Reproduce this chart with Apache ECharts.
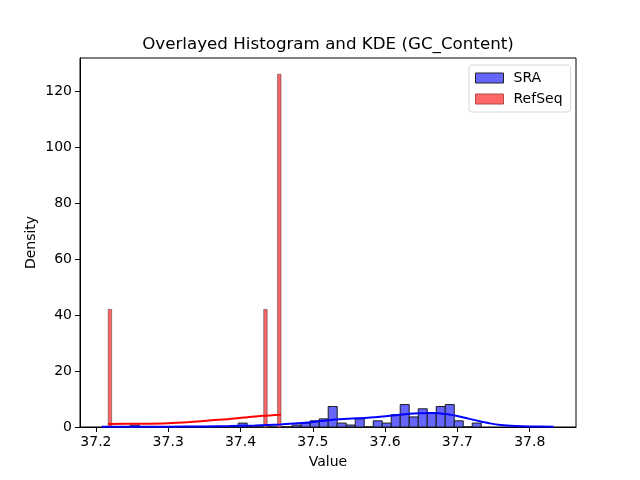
<!DOCTYPE html>
<html>
<head>
<meta charset="utf-8">
<script src="https://cdn.jsdelivr.net/npm/echarts@6/dist/echarts.min.js"></script>
<style>
  html, body { margin: 0; padding: 0; background: #fff; }
  #chart { width: 640px; height: 480px; }
</style>
</head>
<body>
<div id="chart"></div>
<script>
// histogram SRA: first bin left edge, bin width, density per bin
var sraBinStart = 37.2474;
var sraBinWidth = 0.01245;
var sraDensity = [
    0.7, 0, 0, 0, 0, 0, 0, 0, 0, 0,
    0, 0, 1.4, 0, 0, 0, 0, 0, 0.7, 1.4,
    2.2, 2.9, 7.3, 1.4, 0.7, 2.9, 0, 2.2, 1.4, 4.4,
    8.0, 3.6, 6.5, 5.1, 7.3, 8.0, 2.2, 0, 1.4
];

// histogram RefSeq (50 bins)
var refseqBinStart = 37.217;
var refseqBinWidth = 0.00478;
var refseqDensity = [
    42, 0, 0, 0, 0, 0, 0, 0, 0, 0,
    0, 0, 0, 0, 0, 0, 0, 0, 0, 0,
    0, 0, 0, 0, 0, 0, 0, 0, 0, 0,
    0, 0, 0, 0, 0, 0, 0, 0, 0, 0,
    0, 0, 0, 0, 0, 42, 0, 0, 0, 126
];

// KDE curves
var sraKdeX = [37.208, 37.25, 37.30, 37.35, 37.385, 37.42, 37.455, 37.48, 37.51, 37.53,
               37.56, 37.59, 37.62, 37.645, 37.665, 37.685, 37.70, 37.715, 37.73, 37.745,
               37.76, 37.78, 37.80, 37.833];
var sraKdeY = [0.05, 0.07, 0.12, 0.22, 0.35, 0.55, 0.9, 1.3, 2.1, 2.7,
               3.1, 3.6, 4.4, 4.9, 5.0, 4.6, 3.9, 3.0, 2.1, 1.3,
               0.75, 0.4, 0.22, 0.08];
var refseqKdeX = [37.217, 37.26, 37.30, 37.33, 37.36, 37.385, 37.41, 37.43, 37.456];
var refseqKdeY = [1.1, 1.15, 1.35, 1.8, 2.4, 2.85, 3.5, 4.0, 4.4];

var xTicks = [37.2, 37.3, 37.4, 37.5, 37.6, 37.7, 37.8];
var yTicks = [0, 20, 40, 60, 80, 100, 120];

function bins(start, width, vals) {
    var out = [];
    for (var i = 0; i < vals.length; i++) {
        out.push([start + i * width, start + (i + 1) * width, vals[i]]);
    }
    return out;
}

function pairs(xs, ys) {
    return xs.map(function (x, i) { return [x, ys[i]]; });
}

function histRenderer(fill, stroke) {
    return function (params, api) {
        var p0 = api.coord([api.value(0), api.value(2)]);
        var p1 = api.coord([api.value(1), 0]);
        return {
            type: 'rect',
            shape: { x: p0[0], y: p0[1], width: p1[0] - p0[0], height: p1[1] - p0[1] },
            style: { fill: fill, stroke: stroke, lineWidth: 1 }
        };
    };
}

var font = 'DejaVu Sans';
var chart = echarts.init(document.getElementById('chart'), null, { renderer: 'canvas' });

var option = {
    animation: false,
    backgroundColor: '#fff',
    title: {
        text: 'Overlayed Histogram and KDE (GC_Content)',
        left: 323,
        textAlign: 'center',
        top: 31,
        textStyle: { fontFamily: font, fontSize: 16.7, fontWeight: 'normal', color: '#000' }
    },
    legend: {
        orient: 'vertical',
        left: 469,
        top: 65,
        padding: [6, 8, 6, 6],
        itemWidth: 28,
        itemHeight: 10,
        itemGap: 7,
        borderColor: '#d6d6d6',
        borderWidth: 1,
        borderRadius: 3,
        textStyle: { fontFamily: font, fontSize: 14, color: '#000', padding: [0, 0, 0, 5] },
        data: [
            { name: 'SRA', icon: 'rect', itemStyle: { color: '#6666ff', borderColor: '#222', borderWidth: 1 } },
            { name: 'RefSeq', icon: 'rect', itemStyle: { color: '#ff6666', borderColor: '#b04a4a', borderWidth: 1 } }
        ]
    },
    grid: {
        left: 80, right: 64, top: 58, bottom: 53,
        show: true, borderColor: '#000', borderWidth: 1, backgroundColor: 'transparent'
    },
    xAxis: {
        type: 'value',
        min: 37.178,
        max: 37.864,
        name: 'Value',
        nameLocation: 'middle',
        nameGap: 28,
        nameMoveOverlap: false,
        nameTextStyle: { fontFamily: font, fontSize: 14, color: '#000' },
        axisLine: { show: true, onZero: false, lineStyle: { color: '#000', width: 1 } },
        axisTick: { show: true, length: 5, lineStyle: { color: '#000' }, customValues: xTicks },
        axisLabel: {
            fontFamily: font, fontSize: 14, color: '#000', margin: 8,
            customValues: xTicks,
            formatter: function (v) { return v.toFixed(1); }
        },
        splitLine: { show: false }
    },
    yAxis: {
        type: 'value',
        min: 0,
        max: 131.8,
        name: 'Density',
        nameLocation: 'middle',
        nameGap: 42,
        nameMoveOverlap: false,
        nameTextStyle: { fontFamily: font, fontSize: 14, color: '#000' },
        axisLine: { show: true, lineStyle: { color: '#000', width: 1 } },
        axisTick: { show: true, length: 5, lineStyle: { color: '#000' }, customValues: yTicks },
        axisLabel: { fontFamily: font, fontSize: 14, color: '#000', margin: 8, customValues: yTicks },
        splitLine: { show: false }
    },
    series: [
        {
            name: 'SRA',
            type: 'custom',
            renderItem: histRenderer('#6666ff', '#1a1a1a'),
            encode: { x: [0, 1], y: 2 },
            itemStyle: { color: '#6666ff' },
            data: bins(sraBinStart, sraBinWidth, sraDensity),
            z: 2
        },
        {
            name: 'RefSeq',
            type: 'custom',
            renderItem: histRenderer('#ff6666', 'rgba(90,60,60,0.55)'),
            encode: { x: [0, 1], y: 2 },
            itemStyle: { color: '#ff6666' },
            data: bins(refseqBinStart, refseqBinWidth, refseqDensity).filter(function (d) { return d[2] > 0; }),
            z: 3
        },
        {
            name: 'SRA KDE',
            type: 'line',
            data: pairs(sraKdeX, sraKdeY),
            smooth: 0.3,
            showSymbol: false,
            lineStyle: { color: '#0000ff', width: 2 },
            z: 4
        },
        {
            name: 'RefSeq KDE',
            type: 'line',
            data: pairs(refseqKdeX, refseqKdeY),
            smooth: 0.3,
            showSymbol: false,
            lineStyle: { color: '#ff0000', width: 2 },
            z: 5
        }
    ]
};

chart.setOption(option);
</script>
</body>
</html>
